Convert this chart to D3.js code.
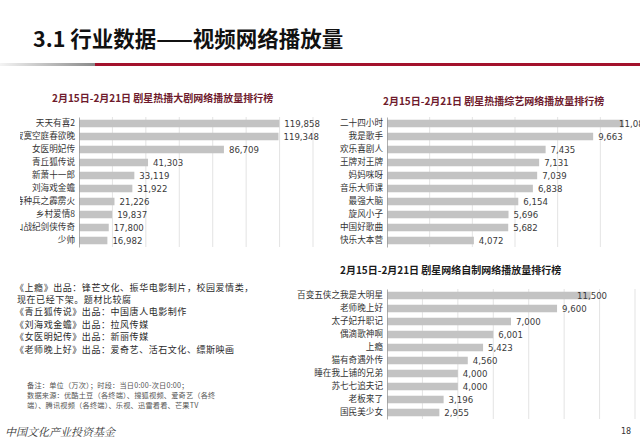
<!DOCTYPE html>
<html><head><meta charset="utf-8">
<script src="https://cdn.jsdelivr.net/npm/d3@7"></script>
<style>body{margin:0;background:#fff;} svg{display:block;}</style>
</head><body>
<svg id="c" width="640" height="444"></svg>
<script>
const dramaNames = ["天天有喜2","寂寞空庭春欲晚","女医明妃传","青丘狐传说","新萧十一郎","刘海戏金蟾","特种兵之霹雳火","乡村爱情8","蜀山战纪剑侠传奇","少帅"];
const dramaValues = [119858,119348,86709,41303,33119,31922,21226,19837,17800,16982];
const dramaTicks = [0,20000,40000,60000,80000,100000,120000,140000];

const varietyNames = ["二十四小时","我是歌手","欢乐喜剧人","王牌对王牌","妈妈咪呀","音乐大师课","最强大脑","旋风小子","中国好歌曲","快乐大本营"];
const varietyValues = [11086,9663,7435,7131,7039,6838,6154,5696,5682,4072];
const varietyTicks = [0,2000,4000,6000,8000,10000,12000];

const webNames = ["百变五侠之我是大明星","老师晚上好","太子妃升职记","偶滴歌神啊","上瘾","猫有奇遇外传","睡在我上铺的兄弟","苏七七追夫记","老板来了","国民美少女"];
const webValues = [11500,9600,7000,6001,5423,4560,4000,4000,3196,2955];
const webTicks = [0,2000,4000,6000,8000,10000,12000,14000];

const noteLines = ["《上瘾》出品：锋芒文化、振华电影制片，校园爱情类，","现在已经下架。题材比较腐","《青丘狐传说》出品：中国唐人电影制作","《刘海戏金蟾》出品：拉风传媒","《女医明妃传》出品：新丽传媒","《老师晚上好》出品：爱奇艺、活石文化、缥斯映画"];
const sourceLines = ["备注：单位（万次）；时段：当日0:00-次日0:00；","数据来源：优酷土豆（各终端）、搜狐视频、爱奇艺（各终","端）、腾讯视频（各终端）、乐视、迅雷看看、芒果TV"];

const svg = d3.select("#c");
const CJK = "'Noto Sans CJK SC','Noto Sans',sans-serif";
const NUM = "'DejaVu Sans',Verdana,sans-serif";

// header
svg.append("text").attr("x",33).attr("y",47).attr("font-family",CJK).attr("font-weight","bold")
  .attr("font-size",21.5).attr("fill","#111").text("3.1 行业数据——视频网络播放量");
const defs = svg.append("defs");
const g1 = defs.append("linearGradient").attr("id","gl").attr("x1","0").attr("x2","1");
g1.append("stop").attr("offset","0").attr("stop-color","#f4f4f4");
g1.append("stop").attr("offset","1").attr("stop-color","#8a8a8a");
svg.append("rect").attr("x",0).attr("y",63).attr("width",95).attr("height",3).attr("fill","url(#gl)");
svg.append("rect").attr("x",95).attr("y",63).attr("width",545).attr("height",3).attr("fill","#a3122c");
defs.append("clipPath").attr("id","clipL").append("rect").attr("x",20).attr("y",70).attr("width",310).attr("height",200);

function chart(cfg){
  const g = svg.append("g");
  if (cfg.clip) g.attr("clip-path", `url(#${cfg.clip})`);
  const x = d3.scaleLinear().domain([0, cfg.ticks[cfg.ticks.length-1]]).range([cfg.x0, cfg.x1]);
  const y = d3.scaleBand().domain(cfg.names).range([cfg.y0, cfg.y1]).paddingInner(0.42).paddingOuter(0.21);
  g.append("g").selectAll("line").data(cfg.ticks.slice(1)).join("line")
    .attr("x1",d=>x(d)).attr("x2",d=>x(d)).attr("y1",cfg.y0).attr("y2",cfg.y1)
    .attr("stroke","#dcdcdc").attr("stroke-width",0.8);
  g.append("g").selectAll("rect").data(cfg.values).join("rect")
    .attr("x",x(0)).attr("y",(d,i)=>y(cfg.names[i])).attr("width",d=>x(d)-x(0))
    .attr("height",y.bandwidth()).attr("fill","#c3c3c3");
  const ax = g.append("g").attr("transform",`translate(${cfg.x0},0)`)
    .call(d3.axisLeft(y).tickSize(0).tickPadding(4));
  ax.select(".domain").attr("stroke","#9a9a9a").attr("stroke-width",0.8);
  ax.selectAll("text").attr("font-family",CJK).attr("font-size",8.6).attr("fill","#333");
  g.append("g").selectAll("text").data(cfg.values).join("text")
    .attr("x",d=>Math.min(x(d)+5, cfg.labelMax || 1e9))
    .attr("y",(d,i)=>y(cfg.names[i])+y.bandwidth()/2).attr("dy","0.35em")
    .attr("font-family",NUM).attr("font-size",8.6).attr("fill","#3a3a3a")
    .text(d=>d3.format(",")(d));
  svg.append("text").attr("x",cfg.tx).attr("y",cfg.ty).attr("font-family",CJK).attr("font-weight","bold")
    .attr("font-size",10).attr("fill",cfg.tcolor).text(cfg.title);
}

chart({names:dramaNames, values:dramaValues, ticks:dramaTicks, x0:79, x1:313, y0:117, y1:247, clip:"clipL",
  title:"2月15日-2月21日 剧星热播大剧网络播放量排行榜", tx:52, ty:102, tcolor:"#6e1a2c"});
chart({names:varietyNames, values:varietyValues, ticks:varietyTicks, x0:387, x1:643, y0:117, y1:247, labelMax:619,
  title:"2月15日-2月21日 剧星热播综艺网络播放量排行榜", tx:383, ty:105, tcolor:"#6e1a2c"});
chart({names:webNames, values:webValues, ticks:webTicks, x0:387, x1:635, y0:289, y1:419, labelMax:577,
  title:"2月15日-2月21日 剧星网络自制网络播放量排行榜", tx:340, ty:274, tcolor:"#1a1a1a"});

svg.append("g").selectAll("text").data(noteLines).join("text")
  .attr("x",(d,i)=> i===1 ? 17 : 15).attr("y",(d,i)=>290.5+i*12.4)
  .attr("font-family",CJK).attr("font-size",9).attr("letter-spacing",0.55).attr("fill","#2a2a2a").text(d=>d);
svg.append("g").selectAll("text").data(sourceLines).join("text")
  .attr("x",27).attr("y",(d,i)=>388+i*10)
  .attr("font-family",CJK).attr("font-size",7.2).attr("letter-spacing",0.2).attr("fill","#555").text(d=>d);
svg.append("text").attr("x",5).attr("y",436).attr("font-family","'Noto Serif CJK SC','Noto Sans CJK SC',serif")
  .attr("font-size",11).attr("font-style","italic").attr("fill","#333").text("中国文化产业投资基金");
svg.append("text").attr("x",621).attr("y",434).attr("font-family",NUM).attr("font-size",8).attr("fill","#333").text("18");
</script>
</body></html>
